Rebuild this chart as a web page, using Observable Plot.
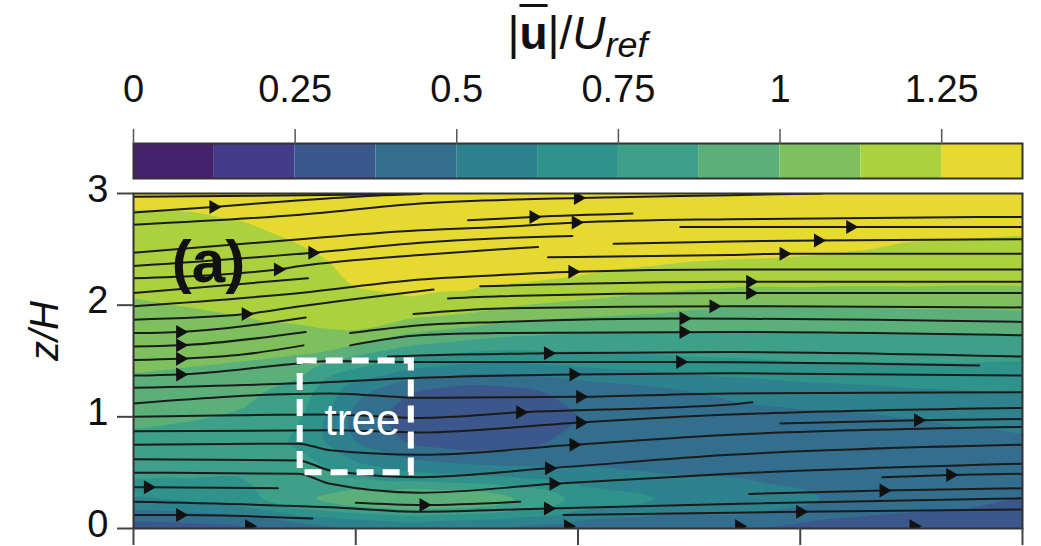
<!DOCTYPE html>
<html><head><meta charset="utf-8">
<script src="https://cdn.jsdelivr.net/npm/d3@7"></script>
<script src="https://cdn.jsdelivr.net/npm/@observablehq/plot@0.6"></script>
<style>
body{margin:0;background:#fff;font-family:"Liberation Sans",Arial,sans-serif;}
#wrap{position:relative;width:1041px;height:546px;overflow:hidden;background:#fff}
#cbar{position:absolute;left:0;top:0}
#main{position:absolute;left:0;top:150px}
#title{position:absolute;left:133px;width:889px;top:8px;text-align:center;font-size:46px;line-height:50px;color:#111;white-space:nowrap}
#title .u{font-weight:bold;text-decoration:overline;text-decoration-thickness:3px}
#title sub{font-style:italic;font-size:0.78em;vertical-align:-0.22em;line-height:0}
</style></head><body>
<div id="wrap">
  <div id="cbar"></div>
  <div id="main"></div>
  <div id="title">|<span class="u">u</span>|/<i>U</i><sub>ref</sub></div>
</div>
<script>
// ---- colour levels (|u|/Uref), 11 discrete bands of 0.125 ----
const levelEdges = [0.125,0.25,0.375,0.5,0.625,0.75,0.875,1.0,1.125,1.25];
const levelColors = ["#45226b","#443b8b","#3b578b","#336e8f","#2d828e","#2f938c","#3ea089","#5bb07a","#7fc05e","#abd23e","#e6da30"];
const colorbarTicks = [0,0.25,0.5,0.75,1,1.25];
const colorbarMax = 1.375;
const contourThresholds = [0,0.125,0.25,0.375,0.5,0.625,0.75,0.875,1.0,1.125,1.25];

// ---- velocity magnitude read on a grid (x/H columns, z/H rows, top row z=3) ----
const gridX = [0,0.5,1,1.5,2,2.5,3,3.5,4,4.5,5,5.5,6,6.5,7,7.5,8];
const gridZ = [3,2.75,2.5,2.25,2,1.75,1.5,1.25,1,0.75,0.5,0.25,0];
const speed = [
 [1.32,1.32,1.32,1.33,1.33,1.34,1.34,1.34,1.34,1.34,1.34,1.34,1.34,1.34,1.33,1.33,1.33],
 [1.20,1.21,1.25,1.30,1.32,1.34,1.35,1.35,1.35,1.35,1.34,1.33,1.32,1.31,1.30,1.30,1.29],
 [1.18,1.19,1.19,1.24,1.30,1.33,1.34,1.33,1.32,1.31,1.29,1.28,1.27,1.255,1.23,1.22,1.21],
 [1.17,1.17,1.16,1.19,1.27,1.30,1.30,1.28,1.25,1.22,1.20,1.19,1.19,1.18,1.18,1.17,1.17],
 [1.11,1.13,1.15,1.18,1.22,1.23,1.20,1.13,1.10,1.07,1.03,1.00,1.01,1.01,1.02,1.02,1.03],
 [1.06,1.07,1.09,1.10,1.12,1.00,0.95,0.90,0.87,0.86,0.86,0.86,0.87,0.88,0.88,0.88,0.88],
 [1.04,1.02,1.00,0.97,0.82,0.72,0.66,0.65,0.68,0.70,0.73,0.74,0.76,0.76,0.76,0.76,0.75],
 [0.95,0.93,0.91,0.82,0.55,0.38,0.32,0.35,0.42,0.46,0.50,0.55,0.58,0.60,0.62,0.63,0.64],
 [0.91,0.89,0.86,0.76,0.45,0.30,0.28,0.30,0.37,0.42,0.44,0.46,0.47,0.48,0.50,0.52,0.55],
 [0.83,0.81,0.79,0.73,0.50,0.36,0.32,0.35,0.41,0.44,0.45,0.45,0.45,0.45,0.46,0.47,0.47],
 [0.80,0.78,0.76,0.82,0.70,0.62,0.58,0.55,0.52,0.50,0.48,0.46,0.44,0.43,0.42,0.42,0.42],
 [0.60,0.65,0.72,0.90,1.00,1.06,1.03,0.92,0.75,0.68,0.62,0.65,0.55,0.47,0.44,0.41,0.37],
 [0.30,0.30,0.32,0.40,0.45,0.50,0.45,0.42,0.40,0.38,0.36,0.36,0.33,0.31,0.29,0.29,0.28]
];

// ---- streamlines as (x/H, z/H) points ----
const streamlines = [
 [[0,2.97],[2.16,2.99],[2.6,3.0]],
 [[0,2.83],[0.72,2.88],[1.5,2.94],[2.16,2.98],[2.58,2.995]],
 [[0,2.72],[1.5,2.81],[2.58,2.91],[4.0,2.96],[5.37,2.985],[6.2,3.0]],
 [[0,2.47],[1.5,2.59],[2.58,2.67],[3.3,2.70],[3.98,2.74],[5.37,2.77],[8,2.79]],
 [[0,2.35],[1.61,2.47],[2.58,2.56],[3.3,2.60],[3.95,2.62]],
 [[0,2.24],[1.30,2.32],[1.5,2.35],[2.58,2.45],[3.3,2.50],[3.64,2.52]],
 [[0,2.11],[1.57,2.24]],
 [[0,1.99],[1.5,2.11],[2.58,2.23],[3.3,2.27],[3.95,2.30],[5.37,2.32],[8,2.32]],
 [[0,1.87],[1.01,1.92],[1.5,1.99],[2.70,2.14]],
 [[3.01,2.76],[3.6,2.79],[4.49,2.82]],
 [[3.12,2.17],[5.37,2.21],[8,2.21]],
 [[2.83,2.06],[3.3,2.08],[5.37,2.11],[8,2.11]],
 [[2.52,1.92],[3.3,1.97],[5.37,1.99],[8,1.98]],
 [[0,1.75],[0.42,1.76],[1.55,1.89]],
 [[1.95,1.75],[2.58,1.82],[3.3,1.85],[4.95,1.88],[8,1.85]],
 [[0,1.63],[0.42,1.64],[1.55,1.76]],
 [[1.95,1.64],[2.58,1.73],[3.3,1.75],[5.37,1.76],[8,1.73]],
 [[0,1.51],[0.42,1.52],[1.0,1.56],[1.53,1.64]],
 [[2.29,1.54],[2.58,1.55],[3.73,1.57],[5.37,1.58],[8,1.54]],
 [[0,1.37],[0.42,1.38],[1.41,1.47],[1.77,1.50],[2.58,1.49],[4.92,1.49],[7.61,1.46]],
 [[0,1.26],[1.48,1.30],[2.58,1.35],[3.96,1.38],[5.37,1.39],[8,1.37]],
 [[0,1.12],[1.77,1.21],[2.58,1.17],[4.02,1.18],[5.37,1.21],[8,1.22]],
 [[0,1.0],[1.77,1.02],[2.58,0.99],[3.48,1.04],[5.37,1.11],[5.57,1.13]],
 [[0,0.87],[1.77,0.88],[2.58,0.86],[4.02,0.95],[5.37,1.02],[8,1.08]],
 [[0,0.75],[1.48,0.76],[1.77,0.70],[2.58,0.66],[3.96,0.75],[5.37,0.84],[8,0.91]],
 [[0,0.62],[1.48,0.61],[1.77,0.52],[2.58,0.46],[3.74,0.54],[5.37,0.66],[8,0.75]],
 [[0,0.50],[1.48,0.49],[1.77,0.40],[2.58,0.32],[3.78,0.40],[5.37,0.49],[8,0.58]],
 [[0,0.37],[0.13,0.37],[1.30,0.36]],
 [[0,0.24],[1.77,0.19],[2.58,0.15],[3.73,0.18],[5.37,0.22],[8,0.27]],
 [[2.0,0.23],[2.61,0.21],[3.48,0.24]],
 [[0,0.12],[0.42,0.12],[1.61,0.09]],
 [[3.87,0.12],[5.37,0.14],[6.0,0.15],[8,0.17]],
 [[6.74,0.46],[7.35,0.48],[8,0.49]],
 [[5.54,0.31],[6.75,0.34],[8,0.36]],
 [[5.82,0.94],[7.06,0.97],[8,0.98]],
 [[4.92,2.70],[6.45,2.70],[8,2.70]],
 [[4.32,2.55],[5.37,2.57],[6.16,2.58],[8,2.59]],
 [[3.73,2.43],[5.37,2.45],[5.85,2.46],[8,2.46]]
];
const arrowHeads = [
 [0.72,2.88],[4.0,2.96],[3.98,2.74],[1.61,2.47],[1.30,2.32],[3.95,2.30],[1.01,1.92],[3.6,2.79],
 [5.55,2.21],[5.55,2.11],[5.22,1.99],[0.42,1.76],[4.95,1.88],[0.42,1.64],[4.95,1.76],[0.42,1.52],
 [3.73,1.57],[0.42,1.38],[4.92,1.49],[3.96,1.38],[4.02,1.18],[3.48,1.04],[4.02,0.95],[3.96,0.75],
 [3.74,0.54],[3.78,0.40],[0.13,0.37],[3.73,0.18],[2.61,0.21],[0.42,0.12],[6.0,0.15],[7.35,0.48],
 [6.75,0.34],[7.06,0.97],[6.45,2.70],[6.16,2.58],[5.85,2.46],
 [1.04,0.02],[3.91,0.02],[5.45,0.02],[7.02,0.02]
];
const treeBox = [{x1:1.5, x2:2.5, z1:0.5, z2:1.5}];
const treeLabel = [{x:2.06, z:0.96, text:"tree"}];
const panelLabel = [{x:0.675, z:2.38, text:"(a)"}];
const xTicks = [0,2,4,6,8];
const yTicks = [0,1,2,3];

// ---- build tables ----
const fieldPoints = [];
gridZ.forEach((z,i)=>gridX.forEach((x,j)=>fieldPoints.push({x, z, v: speed[i][j]})));
const lineRows = streamlines.flatMap((pts,id)=>pts.map(([x,z])=>({id,x,z})));
const arrowRows = arrowHeads.map(([x,z])=>({x,z}));
const bandEdges = [0, ...levelEdges, colorbarMax];
const bins = bandEdges.slice(0,-1).map((lo,i)=>({lo, hi: bandEdges[i+1], mid:(lo+bandEdges[i+1])/2}));

const font = "Liberation Sans, Arial, sans-serif";
const colorOpt = {type:"threshold", domain: levelEdges, range: levelColors};

const cb = Plot.plot({
  width:1041, height:182, marginLeft:133, marginRight:19, marginTop:143, marginBottom:4,
  style:{background:"transparent", fontFamily:font, fontSize:"38px", color:"#111", overflow:"visible"},
  x:{domain:[0,colorbarMax]},
  color: colorOpt,
  marks:[
    Plot.rect(bins, {x1:"lo", x2:"hi", fill:"mid"}),
    Plot.frame({stroke:"#333", strokeWidth:2}),
    Plot.axisX({anchor:"top", ticks: colorbarTicks, tickFormat: d=>String(d), tickSize:15, tickPadding:27, label:null, stroke:"#555", strokeWidth:1.5})
  ]
});
document.getElementById("cbar").append(cb);

const main = Plot.plot({
  width:1041, height:396, marginLeft:133, marginRight:19, marginTop:43, marginBottom:18,
  style:{background:"transparent", fontFamily:font, fontSize:"38px", color:"#111", overflow:"visible"},
  x:{domain:[0,8]},
  y:{domain:[0,3]},
  color: colorOpt,
  marks:[
    Plot.contour(fieldPoints, {x:"x", y:"z", fill:"v", thresholds: contourThresholds, interpolate:"barycentric", blur:2, stroke:"none", clip:true}),
    Plot.line(lineRows, {x:"x", y:"z", z:"id", curve:"monotone-x", stroke:"#1b1b1b", strokeWidth:2, clip:true}),
    Plot.dot(arrowRows, {x:"x", y:"z", symbol:"triangle", r:5.2, rotate:90, fill:"#111", stroke:"none", clip:true}),
    Plot.rect(treeBox, {x1:"x1", x2:"x2", y1:"z1", y2:"z2", fill:"none", stroke:"white", strokeWidth:6, strokeDasharray:"17,9"}),
    Plot.text(treeLabel, {x:"x", y:"z", text:"text", fill:"white", fontSize:44}),
    Plot.text(panelLabel, {x:"x", y:"z", text:"text", fill:"#111", fontSize:60, fontWeight:"bold"}),
    Plot.text(["z/H"], {frameAnchor:"left", dx:-88, rotate:-90, fontSize:40, fontStyle:"italic", fill:"#111"}),
    Plot.frame({stroke:"#333", strokeWidth:2}),
    Plot.axisX({ticks:xTicks, tickFormat:()=>"", tickSize:17, label:null, stroke:"#444", strokeWidth:2}),
    Plot.axisY({ticks:yTicks, tickFormat:()=>"", tickSize:16, label:null, stroke:"#444", strokeWidth:2}),
    Plot.text(yTicks, {y:d=>d, text:d=>String(d), frameAnchor:"left", dx:-25, dy:-4, textAnchor:"end", fontSize:38, fill:"#111"})
  ]
});
document.getElementById("main").append(main);
</script>
</body></html>
